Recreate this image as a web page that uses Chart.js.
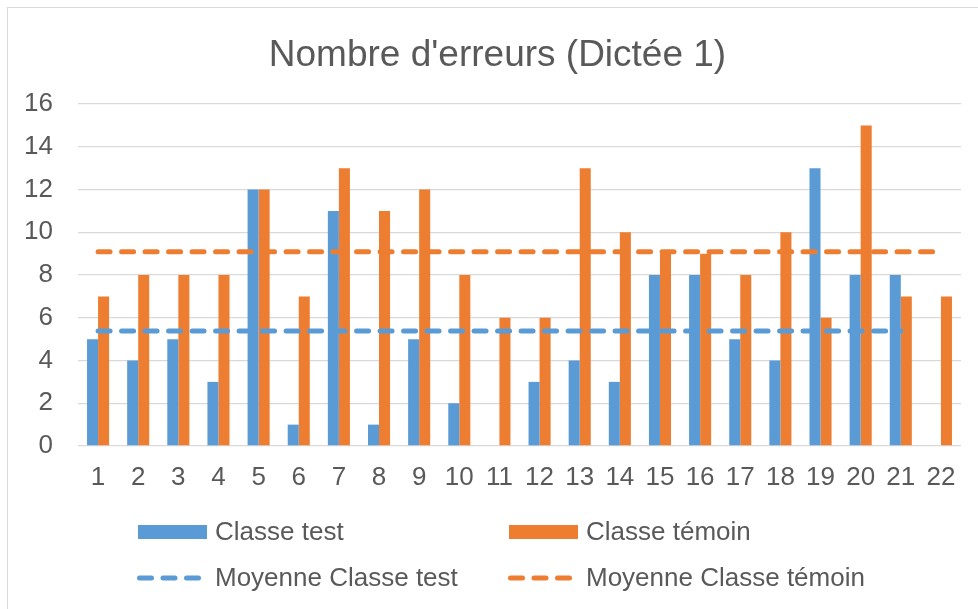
<!DOCTYPE html>
<html>
<head>
<meta charset="utf-8">
<script src="https://cdn.jsdelivr.net/npm/chart.js@4/dist/chart.umd.min.js"></script>
<style>
    html, body { margin: 0; padding: 0; background: #ffffff; }
    #wrap { position: relative; width: 978px; height: 609px; overflow: hidden; }
    #frame {
        position: absolute; left: 7px; top: 7px; width: 1100px; height: 800px;
        border-left: 1.5px solid #d9d9d9; border-top: 1.5px solid #d9d9d9;
        pointer-events: none;
    }
    canvas { position: absolute; left: 0; top: 0; }
</style>
</head>
<body>
<div id="wrap">
    <div id="frame"></div>
    <canvas id="chart" width="978" height="609"></canvas>
</div>
<script>
const labels = ['1', '2', '3', '4', '5', '6', '7', '8', '9', '10', '11',
    '12', '13', '14', '15', '16', '17', '18', '19', '20', '21', '22'];
const classeTest = [5, 4, 5, 3, 12, 1, 11, 1, 5, 2, 0, 3, 4, 3, 8, 8, 5, 4, 13, 8, 8, null];
const classeTemoin = [7, 8, 8, 8, 12, 7, 13, 11, 12, 8, 6, 6, 13, 10, 9, 9, 8, 10, 6, 15, 7, 7];
const moyenneTest = [5.38, 5.38, 5.38, 5.38, 5.38, 5.38, 5.38, 5.38, 5.38, 5.38, 5.38,
    5.38, 5.38, 5.38, 5.38, 5.38, 5.38, 5.38, 5.38, 5.38, 5.38];
const moyenneTemoin = [9.09, 9.09, 9.09, 9.09, 9.09, 9.09, 9.09, 9.09, 9.09, 9.09, 9.09,
    9.09, 9.09, 9.09, 9.09, 9.09, 9.09, 9.09, 9.09, 9.09, 9.09, 9.09];
const yTicks = [0, 2, 4, 6, 8, 10, 12, 14, 16];

const blue = '#5B9BD5';
const orange = '#ED7D31';
const textColor = '#595959';
const fontFamily = '"Liberation Sans", Arial, sans-serif';

// legend drawn in two aligned columns like the Excel original
const gridLegend = {
    id: 'gridLegend',
    afterLayout(chart) {
        // nudge the title box so it is centred on the frame, not the canvas
        if (chart.titleBlock) chart.titleBlock.left += 26;
    },
    afterDraw(chart) {
        const ctx = chart.ctx;
        const colX = [138, 509];
        const rowY = [532, 578];
        ctx.save();
        ctx.font = '26px ' + fontFamily;
        ctx.textBaseline = 'middle';
        ctx.textAlign = 'left';
        chart.data.datasets.forEach((ds, i) => {
            const x = colX[i % 2];
            const y = rowY[Math.floor(i / 2)];
            if (ds.type === 'line') {
                ctx.strokeStyle = ds.borderColor;
                ctx.lineWidth = ds.borderWidth;
                ctx.lineCap = 'round';
                ctx.setLineDash(ds.borderDash);
                ctx.beginPath();
                ctx.moveTo(x + 1.5, y);
                ctx.lineTo(x + 62, y);
                ctx.stroke();
                ctx.setLineDash([]);
            } else {
                ctx.fillStyle = ds.backgroundColor;
                ctx.fillRect(x, y - 7, 69, 14);
            }
            ctx.fillStyle = textColor;
            ctx.fillText(ds.label, x + 77, y + 1);
        });
        ctx.restore();
    }
};

const ctx = document.getElementById('chart').getContext('2d');
const chart = new Chart(ctx, {
    type: 'bar',
    data: {
        labels: labels,
        datasets: [{
            label: 'Classe test',
            data: classeTest,
            backgroundColor: blue,
            order: 1
        }, {
            label: 'Classe témoin',
            data: classeTemoin,
            backgroundColor: orange,
            order: 1
        }, {
            type: 'line',
            label: 'Moyenne Classe test',
            data: moyenneTest,
            borderColor: blue,
            borderWidth: 5,
            borderDash: [12, 11.5],
            borderCapStyle: 'round',
            pointRadius: 0,
            fill: false,
            order: 0
        }, {
            type: 'line',
            label: 'Moyenne Classe témoin',
            data: moyenneTemoin,
            borderColor: orange,
            borderWidth: 5,
            borderDash: [12, 11.5],
            borderCapStyle: 'round',
            pointRadius: 0,
            fill: false,
            order: 0
        }]
    },
    options: {
        responsive: false,
        animation: false,
        layout: {
            padding: { left: 8, right: 17, top: 0, bottom: 116 }
        },
        datasets: {
            bar: {
                barPercentage: 1,
                categoryPercentage: 0.55
            }
        },
        plugins: {
            legend: { display: false },
            tooltip: { enabled: false },
            title: {
                display: true,
                text: "Nombre d'erreurs (Dictée 1)",
                color: textColor,
                font: { family: fontFamily, size: 37, weight: 'normal' },
                padding: { top: 34, bottom: 25.6 }
            }
        },
        scales: {
            x: {
                afterFit(axis) { axis.height = 47; },
                grid: { display: false },
                border: { display: false },
                ticks: {
                    color: textColor,
                    font: { family: fontFamily, size: 26 },
                    padding: 8.5,
                    maxRotation: 0,
                    autoSkip: false
                }
            },
            y: {
                min: 0,
                max: 16,
                afterFit(axis) { axis.width = 70; },
                afterBuildTicks(axis) { axis.ticks = yTicks.map(v => ({ value: v })); },
                grid: {
                    color: '#d9d9d9',
                    lineWidth: 1.3,
                    drawTicks: false
                },
                border: { display: false },
                ticks: {
                    color: textColor,
                    font: { family: fontFamily, size: 26 },
                    padding: 25
                }
            }
        }
    },
    plugins: [gridLegend]
});
</script>
</body>
</html>
